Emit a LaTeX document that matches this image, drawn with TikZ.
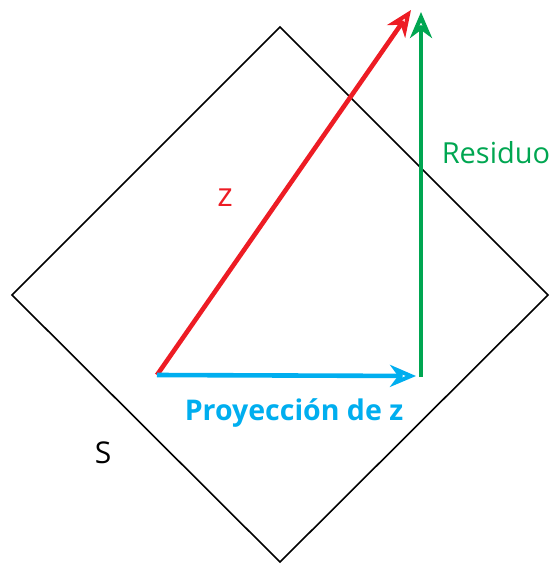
\documentclass[tikz,border=0pt]{standalone}
\usepackage{fontspec}
\setmainfont{Open Sans}
\usetikzlibrary{arrows.meta}
\definecolor{vred}{RGB}{237,28,36}
\definecolor{vblue}{RGB}{0,174,239}
\definecolor{vgreen}{RGB}{0,166,81}
\tikzset{
  vec/.style={line width=4.6pt, -{Stealth[open, length=26pt, width=22pt, line width=4pt, inset=8pt]}},
  lbl/.style={font=\fontsize{29}{31}\selectfont, inner sep=0pt}
}
\begin{document}
\begin{tikzpicture}[x=1pt,y=-1pt]
\useasboundingbox (0,0) rectangle (553,565);
\coordinate (T) at (280,27);
\coordinate (L) at (12,295);
\coordinate (B) at (280,562);
\coordinate (R) at (548,295);
\draw[line width=1.6pt] (T) -- (R) -- (B) -- (L) -- cycle;
\coordinate (O) at (157,375);
\coordinate (Z) at (411,10);
\coordinate (P) at (416,376);
\coordinate (G0) at (421,377);
\coordinate (G1) at (421,12);
\draw[vec, vred] (O) -- (Z);
\draw[vec, vblue] (O) -- (P);
\draw[vec, vgreen] (G0) -- (G1);
\node[lbl, text=vred, font=\fontsize{33}{35}\selectfont] (zl) at (225,198) {z};
\node[lbl, text=vgreen] (rl) at (496,153) {Residuo};
\node[lbl, text=vblue, font=\fontsize{28.5}{30}\selectfont\bfseries] (pl) at (294,413) {Proyección de z};
\node[lbl, font=\fontsize{30}{32}\selectfont] (sl) at (103,453) {S};
\end{tikzpicture}
\end{document}
